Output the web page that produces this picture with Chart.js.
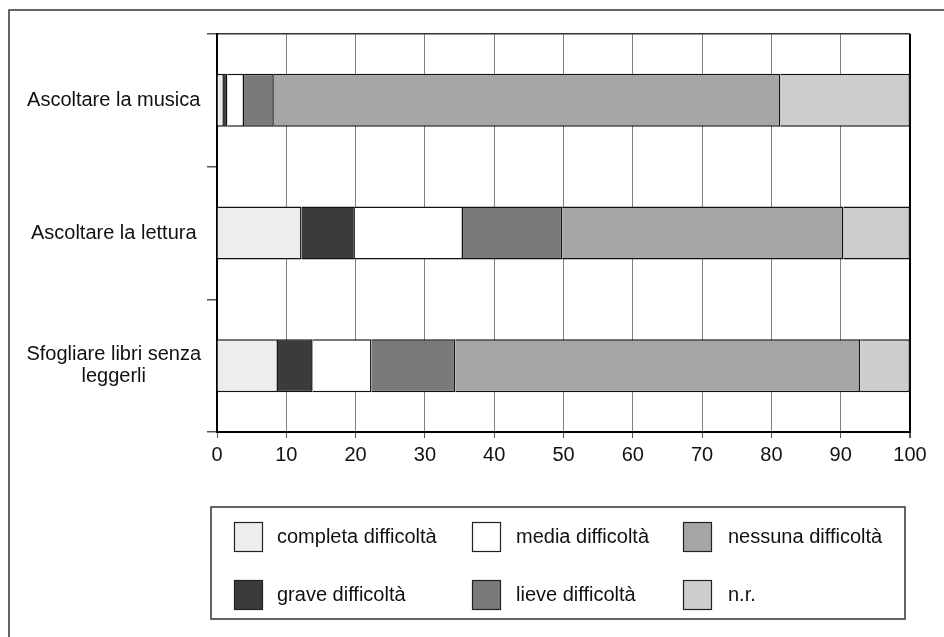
<!DOCTYPE html>
<html><head><meta charset="utf-8">
<script src="https://cdn.jsdelivr.net/npm/chart.js@4"></script>
<style>html,body{margin:0;padding:0;background:#fff;}canvas{display:block;}</style>
</head><body>
<canvas id="c" width="944" height="637"></canvas>
<script>
const categories = ['Ascoltare la musica', 'Ascoltare la lettura', ['Sfogliare libri senza', 'leggerli']];
const seriesNames = ['completa difficoltà', 'grave difficoltà', 'media difficoltà', 'lieve difficoltà', 'nessuna difficoltà', 'n.r.'];
const completa = [1.0, 12.2, 8.8];
const grave = [0.5, 7.7, 5.0];
const media = [2.4, 15.6, 8.5];
const lieve = [4.3, 14.3, 12.1];
const nessuna = [73.1, 40.6, 58.4];
const nr = [18.7, 9.6, 7.2];
const xTickValues = [0, 10, 20, 30, 40, 50, 60, 70, 80, 90, 100];

const seriesValues = [completa, grave, media, lieve, nessuna, nr];
const seriesColors = ['#ededed', '#3b3b3b', '#ffffff', '#7a7a7a', '#a6a6a6', '#cdcdcd'];
const FONT = "'Liberation Sans', Arial, sans-serif";

const decor = {
  id: 'decor',
  beforeDraw(chart) {
    const ctx = chart.ctx;
    ctx.save();
    ctx.strokeStyle = '#333';
    ctx.lineWidth = 1.5;
    ctx.beginPath();
    ctx.moveTo(9, 637);
    ctx.lineTo(9, 10);
    ctx.lineTo(944, 10);
    ctx.stroke();
    ctx.restore();
  },
  afterDraw(chart) {
    const ctx = chart.ctx;
    ctx.save();
    ctx.strokeStyle = '#333';
    ctx.lineWidth = 1.5;
    ctx.strokeRect(211, 507, 694, 112);
    const swX = [234, 472, 683];
    const txX = [277, 516, 728];
    const rowY = [537, 595];
    ctx.font = '20px ' + FONT;
    ctx.textBaseline = 'middle';
    ctx.textAlign = 'left';
    chart.data.datasets.forEach((ds, i) => {
      const col = Math.floor(i / 2), row = i % 2;
      const y = rowY[row];
      ctx.fillStyle = ds.backgroundColor;
      ctx.fillRect(swX[col], y - 15, 29, 30);
      ctx.strokeStyle = '#222';
      ctx.lineWidth = 1.2;
      ctx.strokeRect(swX[col] + 0.5, y - 14.5, 28, 29);
      ctx.fillStyle = '#111';
      ctx.fillText(ds.label, txX[col], y);
    });
    ctx.restore();
  }
};

new Chart(document.getElementById('c'), {
  type: 'bar',
  data: {
    labels: categories,
    datasets: seriesNames.map((n, i) => ({
      label: n,
      data: seriesValues[i],
      backgroundColor: seriesColors[i],
      borderColor: '#111',
      borderWidth: 1.5,
      barPercentage: 0.4,
      categoryPercentage: 1.0
    }))
  },
  options: {
    indexAxis: 'y',
    responsive: false,
    animation: false,
    devicePixelRatio: 1,
    layout: { padding: { top: 34, right: 34, bottom: 0, left: 0 } },
    plugins: { legend: { display: false }, tooltip: { enabled: false } },
    scales: {
      x: {
        stacked: true,
        min: 0, max: 100,
        afterBuildTicks: s => { s.ticks = xTickValues.map(v => ({ value: v })); },
        afterFit: s => { s.height = 205; },
        border: { display: true, color: '#000', width: 2 },
        grid: {
          color: c => (c.tick && c.tick.value === 100) ? '#000' : '#808080',
          lineWidth: c => (c.tick && c.tick.value === 100) ? 2 : 1,
          tickColor: '#555',
          tickLength: 6,
          drawTicks: true
        },
        ticks: { color: '#111', font: { family: FONT, size: 20 }, padding: 5, maxRotation: 0 }
      },
      y: {
        stacked: true,
        afterFit: s => { s.width = 217; },
        border: { display: true, color: '#000', width: 2 },
        grid: {
          offset: true,
          color: c => c.index === 0 ? '#333' : 'rgba(0,0,0,0)',
          lineWidth: 1.5,
          tickColor: '#555',
          tickLength: 10,
          drawTicks: true
        },
        ticks: { color: '#111', font: { family: FONT, size: 20, lineHeight: 1.1 }, crossAlign: 'center', padding: 6 }
      }
    }
  },
  plugins: [decor]
});
</script>
</body></html>
